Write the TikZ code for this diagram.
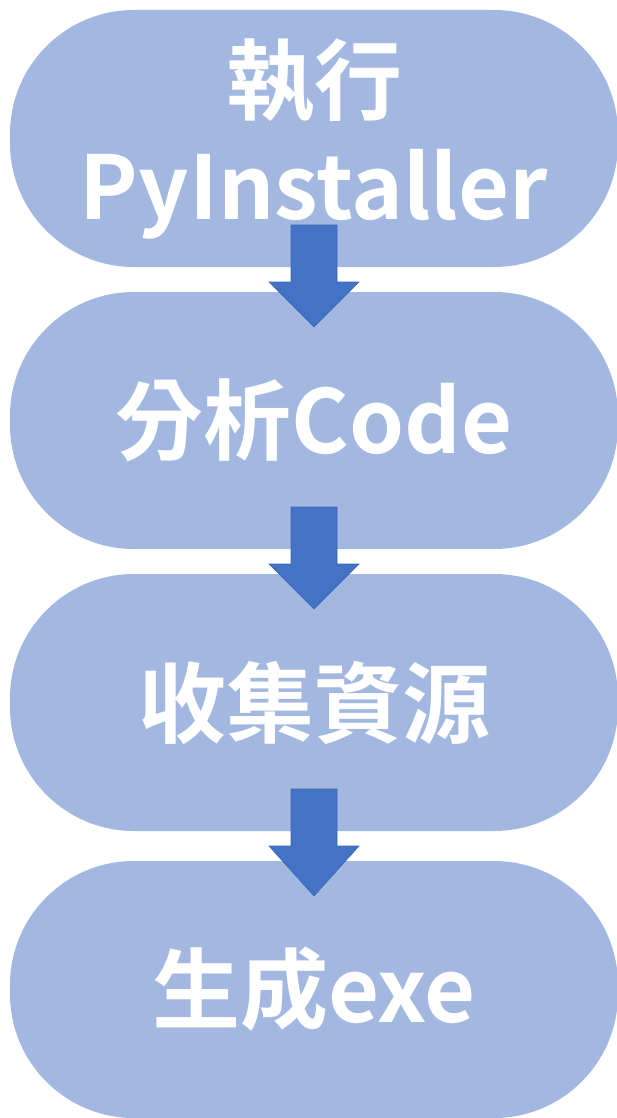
\documentclass[tikz,border=0pt]{standalone}
\usepackage{fontspec}
\setmainfont{Noto Sans CJK TC}[BoldFont=* Bold]
\usetikzlibrary{positioning,calc}

\definecolor{pillblue}{HTML}{A2B8E1}
\definecolor{arrowblue}{HTML}{4472C4}
\definecolor{arrowedge}{HTML}{3C66B4}

\tikzset{
  stage/.style={fill=pillblue, rounded corners=124pt, minimum width=608pt,
    minimum height=257pt, inner sep=0pt, outer sep=0pt, text=white,
    font=\fontsize{88}{106}\selectfont\bfseries, align=center},
  blockarrow/.style={fill=arrowblue, draw=arrowedge, line width=0.6pt}
}

% block arrow from the bottom of one stage into the next
\newcommand{\flowarrow}[2]{%
  \filldraw[blockarrow] ($(#1.south)+(-23,42)$) -- ($(#1.south)+(23,42)$)
    -- ($(#1.south)+(23,-15)$) -- ($(#1.south)+(45,-15)$)
    -- ($(#2.north)+(0,-35)$)
    -- ($(#1.south)+(-45,-15)$) -- ($(#1.south)+(-23,-15)$) -- cycle;}

\begin{document}
\begin{tikzpicture}[x=1pt, y=1pt]
  \useasboundingbox (0,0) rectangle (616,-1118);

  %Stages
  \node[stage] (Run) at (314,-138.5) {執行\\PyInstaller};
  \node[stage, below=25pt of Run] (Analyse) {分析Code};
  \node[stage, below=25pt of Analyse] (Collect) {收集資源};
  \node[stage, below=30pt of Collect] (Build) {生成exe};

  %Arrows
  \flowarrow{Run}{Analyse}
  \flowarrow{Analyse}{Collect}
  \flowarrow{Collect}{Build}
\end{tikzpicture}
\end{document}
